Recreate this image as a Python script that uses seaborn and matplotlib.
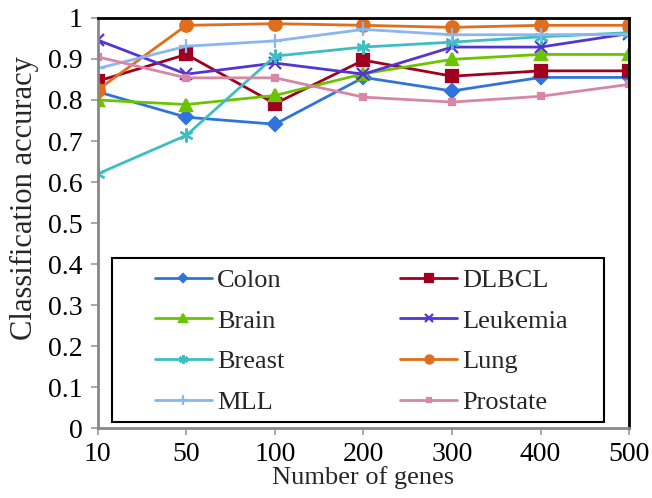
import pandas as pd
import seaborn as sns
import matplotlib.pyplot as plt

sns.set_theme(style='ticks')
plt.rcParams['font.family'] = ['Liberation Serif', 'DejaVu Serif']

# data
genes = ['10', '50', '100', '200', '300', '400', '500']
colon = [0.820, 0.758, 0.741, 0.855, 0.822, 0.855, 0.855]
dlbcl = [0.846, 0.911, 0.791, 0.897, 0.858, 0.871, 0.871]
brain = [0.800, 0.789, 0.811, 0.864, 0.899, 0.911, 0.911]
leukemia = [0.946, 0.863, 0.890, 0.863, 0.929, 0.929, 0.962]
breast = [0.620, 0.714, 0.907, 0.929, 0.941, 0.954, 0.964]
lung = [0.825, 0.982, 0.986, 0.982, 0.977, 0.982, 0.982]
mll = [0.877, 0.931, 0.944, 0.972, 0.959, 0.959, 0.960]
prostate = [0.905, 0.854, 0.854, 0.807, 0.795, 0.809, 0.838]

series = [
    ('Colon', colon, '#2F74DC', 'D', 7),
    ('DLBCL', dlbcl, '#A0001E', 's', 9),
    ('Brain', brain, '#6AC400', '^', 9),
    ('Leukemia', leukemia, '#5235D2', 'x', 9),
    ('Breast', breast, '#3EBEC2', (6, 2, 0), 10),
    ('Lung', lung, '#E06E1C', 'o', 9),
    ('MLL', mll, '#8AB6F2', '+', 10),
    ('Prostate', prostate, '#D886A6', 's', 4),
]

fig, ax = plt.subplots(figsize=(6.52, 4.98), dpi=100)

for name, vals, col, mk, ms in series:
    df = pd.DataFrame({'genes': genes, 'acc': vals})
    sns.lineplot(data=df, x='genes', y='acc', color=col, marker=mk, markersize=ms,
                 markeredgecolor=col, markeredgewidth=1.6, linewidth=2, label=name,
                 sort=False, ax=ax)

ax.set_xlim(0, 6)
ax.set_ylim(0, 1)
ax.set_yticks([i / 10 for i in range(11)])
ax.set_yticklabels(['0'] + [f'{i / 10:.1f}' for i in range(1, 10)] + ['1'])
ax.tick_params(axis='both', labelsize=20, length=5, width=1.2, color='#999999',
               labelcolor='black')
ax.tick_params(axis='y', pad=6)
ax.tick_params(axis='x', pad=5)
ax.set_xlabel('Number of genes', fontsize=19, labelpad=-1)
ax.set_ylabel('Classification accuracy', fontsize=22, labelpad=4)
ax.yaxis.set_label_coords(-0.11, 0.56)
for side in ['top', 'right']:
    ax.spines[side].set_visible(True)
    ax.spines[side].set_color('black')
    ax.spines[side].set_linewidth(2)
for side in ['left', 'bottom']:
    ax.spines[side].set_color('#888888')
    ax.spines[side].set_linewidth(2)

# legend box drawn separately so the inner padding can be wider than tall
box = plt.Rectangle((0.026, 0.015), 0.927, 0.40, transform=ax.transAxes,
                    facecolor='white', edgecolor='black', linewidth=1.5, zorder=5)
ax.add_patch(box)

handles, labels = ax.get_legend_handles_labels()
order = [0, 2, 4, 6, 1, 3, 5, 7]
leg = ax.legend([handles[i] for i in order], [labels[i] for i in order],
                ncol=2, loc='center', bbox_to_anchor=(0.496, 0.212),
                fontsize=19, frameon=False, handlelength=2.15, handletextpad=0.2,
                labelspacing=0.65, borderpad=0, columnspacing=4.4, markerscale=0.65)
leg.set_zorder(6)

plt.subplots_adjust(left=0.15, right=0.965, top=0.964, bottom=0.14)
plt.savefig('out.png', dpi=100)
